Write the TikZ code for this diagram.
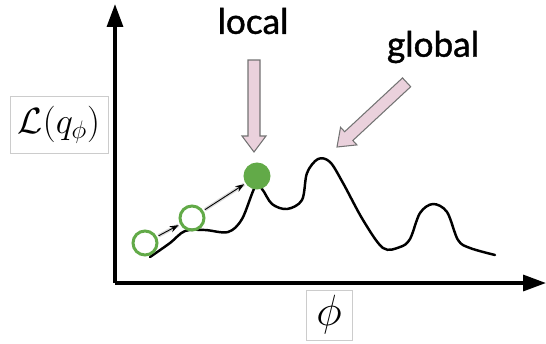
\documentclass[tikz,border=0pt]{standalone}
\usepackage{amsmath}
\usepackage{fontspec}
\newfontfamily\labelfont[FakeBold=1.2]{Lato}
\usetikzlibrary{arrows.meta}
\definecolor{ptgreen}{RGB}{98,170,72}
\definecolor{flagpink}{RGB}{234,209,220}
\newcommand{\fatarrow}[3]{% tip, angle, length
  \draw[fatstyle, shift={#1}, rotate=#2]
    (-#3,6) -- (-16,6) -- (-16,12) -- (0,0) -- (-16,-12) -- (-16,-6) -- (-#3,-6) -- cycle;}
\begin{document}
\begin{tikzpicture}[x=0.02cm, y=0.02cm,
  fatstyle/.style={draw=black!55, fill=flagpink, line width=0.6pt},
  axis/.style={line width=2pt, -{Triangle[length=13pt, width=9pt]}},
  boxlabel/.style={draw=black!20, fill=white, inner sep=2pt},
  stepdot/.style={draw=ptgreen, line width=1.7pt, circle, minimum size=24*0.02cm, inner sep=0pt}]
\useasboundingbox (0,0) rectangle (546,343);
% axes
\coordinate (o) at (115,60);
\coordinate (ytop) at (115,339);
\coordinate (xend) at (546,60);
\draw[axis] (o) -- (ytop);
\draw[axis] (o) -- (xend);
% labels
\node[boxlabel, minimum width=98*0.02cm, minimum height=57*0.02cm] (loss) at (59,218) {\fontsize{22}{26}\selectfont$\mathcal{L}(q_\phi)$};
\node[boxlabel, minimum width=46*0.02cm, minimum height=50*0.02cm] (phi) at (329,28) {\fontsize{24}{28}\selectfont$\phi$};
\node (local) at (253,322) {\labelfont\fontsize{20}{24}\selectfont local};
\node (global) at (433,296) {\labelfont\fontsize{20}{24}\selectfont global};
% landscape
\draw[line width=1.4pt, line cap=round] plot[smooth, tension=0.55] coordinates {
  (150,86) (170,100) (185,112) (205,113) (228,111) (242,124) (255,156)
  (262,154) (272,139) (287,134) (302,143) (307,170) (318,184) (330,181)
  (343,160) (363,123) (383,95) (400,96) (410,104) (420,130) (433,139)
  (447,131) (458,103) (470,95) (495,88)};
% pointers
\fatarrow{(254,191)}{-90}{92}
\fatarrow{(337,196)}{222.9}{95}
% optimisation steps
\begin{scope}[every node/.style={stepdot}]
  \node (s1) at (145,100) {};
  \node (s2) at (192,125) {};
  \node[fill=ptgreen] (s3) at (257,167) {};
\end{scope}
\begin{scope}[shorten >=1pt, shorten <=1pt]
  \path [draw=black!15, line width=2pt] (s1) edge node {} (s2);
  \path [draw=black!15, line width=2pt] (s2) edge node {} (s3);
  \path [-{Stealth[length=5pt]}, draw, line width=0.5pt] (s1) edge node {} (s2);
  \path [-{Stealth[length=5pt]}, draw, line width=0.5pt] (s2) edge node {} (s3);
\end{scope}
\end{tikzpicture}
\end{document}
